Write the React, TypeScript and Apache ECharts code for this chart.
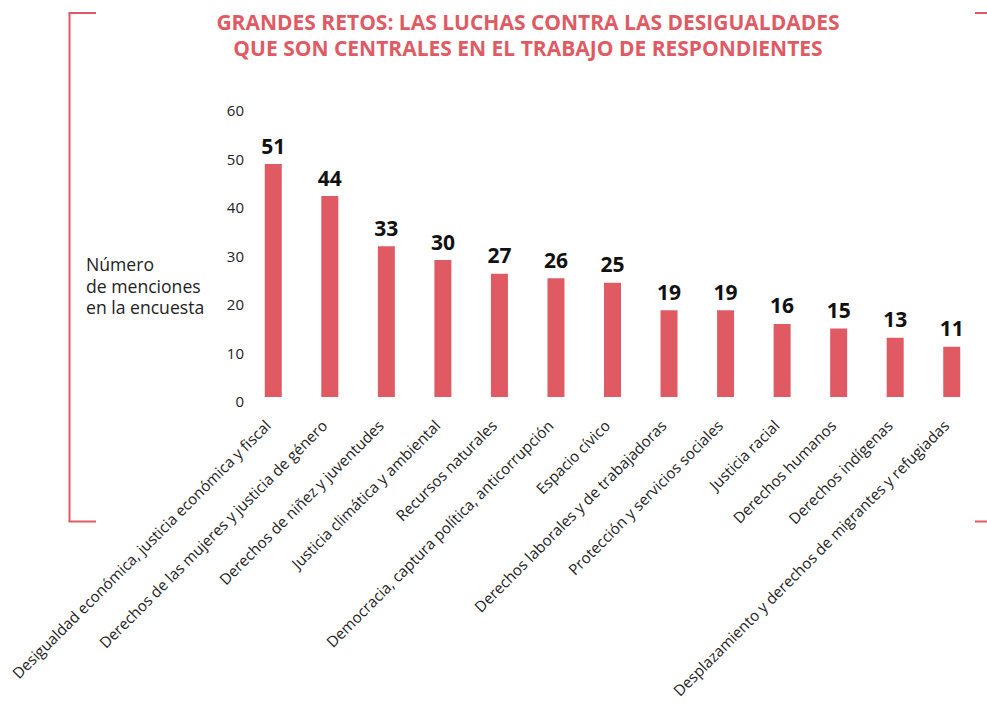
import React, { useEffect, useRef } from "react";
import * as echarts from "echarts";

const categories: string[] = [
  "Desigualdad económica, justicia económica y fiscal",
  "Derechos de las mujeres y justicia de género",
  "Derechos de niñez y juventudes",
  "Justicia climática y ambiental",
  "Recursos naturales",
  "Democracia, captura política, anticorrupción",
  "Espacio cívico",
  "Derechos laborales y de trabajadoras",
  "Protección y servicios sociales",
  "Justicia racial",
  "Derechos humanos",
  "Derechos indígenas",
  "Desplazamiento y derechos de migrantes y refugiadas",
];
const mentions: number[] = [51, 44, 33, 30, 27, 26, 25, 19, 19, 16, 15, 13, 11];
const yTicks: number[] = [0, 10, 20, 30, 40, 50, 60];
const titleLines: string[] = [
  "GRANDES RETOS: LAS LUCHAS CONTRA LAS DESIGUALDADES",
  "QUE SON CENTRALES EN EL TRABAJO DE RESPONDIENTES",
];
const yName: string[] = ["Número", "de menciones", "en la encuesta"];

const RED = "#e05a64";
const FONT = "'Open Sans', 'Noto Sans', sans-serif";

export default function App() {
  const ref = useRef<HTMLDivElement>(null);
  useEffect(() => {
    if (!ref.current) return;
    const chart = echarts.init(ref.current, undefined, { renderer: "svg" });
    const option: any = {
      animation: false,
      backgroundColor: "#ffffff",
      textStyle: { fontFamily: FONT },
      grid: [
        { left: 245, right: 7, top: 123, bottom: 310, containLabel: false },
        { left: 245, right: 7, top: 110, bottom: 306, containLabel: false },
      ],
      xAxis: [
        {
          type: "category",
          gridIndex: 0,
          data: categories,
          axisLine: { show: false },
          axisTick: { show: false },
          axisLabel: {
            interval: 0,
            rotate: 45,
            margin: 20,
            padding: [0, 8, 0, 0],
            fontSize: 15.2,
            color: "#222222",
            fontFamily: FONT,
          },
        },
        {
          type: "category",
          gridIndex: 1,
          data: categories,
          show: false,
        },
      ],
      yAxis: [
        {
          type: "value",
          gridIndex: 0,
          min: 0,
          max: 60,
          show: false,
        },
        {
          type: "value",
          gridIndex: 1,
          min: yTicks[0],
          max: yTicks[yTicks.length - 1],
          interval: 10,
          axisLine: { show: false },
          axisTick: { show: false },
          splitLine: { show: false },
          axisLabel: {
            margin: 1,
            fontSize: 15,
            color: "#222222",
            fontFamily: FONT,
          },
        },
      ],
      series: [
        {
          type: "bar",
          xAxisIndex: 0,
          yAxisIndex: 0,
          data: mentions,
          barWidth: 17,
          itemStyle: { color: RED },
          label: {
            show: true,
            position: "top",
            distance: 8,
            fontSize: 21,
            fontWeight: "bold",
            color: "#111111",
            fontFamily: FONT,
          },
        },
      ],
      graphic: [
        {
          type: "text",
          x: 528,
          y: 9,
          style: {
            text: titleLines.join("\n"),
            fill: RED,
            font: `bold 21px ${FONT}`,
            lineHeight: 26,
            textAlign: "center",
          },
        },
        ...yName.map((line, i) => ({
          type: "text",
          x: 86,
          y: 264 + i * 21.5,
          style: {
            text: line,
            fill: "#222222",
            font: `17.6px ${FONT}`,
            textAlign: "left",
            textVerticalAlign: "middle",
          },
        })),
        { type: "line", shape: { x1: 69.5, y1: 13, x2: 69.5, y2: 521.5 }, style: { stroke: RED, lineWidth: 2 } },
        { type: "line", shape: { x1: 68.5, y1: 13, x2: 96, y2: 13 }, style: { stroke: RED, lineWidth: 2 } },
        { type: "line", shape: { x1: 68.5, y1: 521.5, x2: 96, y2: 521.5 }, style: { stroke: RED, lineWidth: 2 } },
        { type: "line", shape: { x1: 975, y1: 13, x2: 987, y2: 13 }, style: { stroke: RED, lineWidth: 2 } },
        { type: "line", shape: { x1: 975, y1: 521.5, x2: 987, y2: 521.5 }, style: { stroke: RED, lineWidth: 2 } },
      ],
    };
    chart.setOption(option);
    return () => chart.dispose();
  }, []);
  return (
    <div
      ref={ref}
      style={{ width: 987, height: 707, position: "absolute", left: 0, top: 0 }}
    />
  );
}
